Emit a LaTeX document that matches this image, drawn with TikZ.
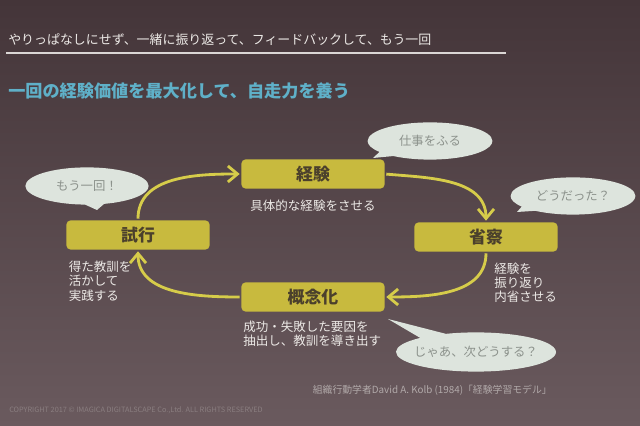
\documentclass[tikz,border=0pt]{standalone}
\usepackage{fontspec}
\setmainfont{Noto Sans CJK JP}
\usepackage{xcolor}
\usepackage{tikz}
\usetikzlibrary{positioning, arrows.meta, shapes, shapes.callouts, calc}

\definecolor{bgtop}{RGB}{68,53,57}
\definecolor{bgbot}{RGB}{106,90,94}
\definecolor{stagefill}{RGB}{200,186,62}
\definecolor{stagetext}{RGB}{75,64,44}
\definecolor{loopcol}{RGB}{214,204,74}
\definecolor{headblue}{RGB}{95,176,200}
\definecolor{bubblefill}{RGB}{221,228,221}
\definecolor{bubbletext}{RGB}{140,146,140}
\definecolor{softwhite}{RGB}{236,233,230}

\begin{document}
\begin{tikzpicture}[x=0.025cm, y=0.025cm]
        \tikzstyle{stage} = [rectangle, fill=stagefill, text=stagetext, minimum width=3.58cm, minimum height=0.73cm, rounded corners=3pt, font=\fontsize{12}{14}\selectfont\bfseries]
        \tikzstyle{note} = [text=softwhite, align=left, inner sep=0pt, font=\fontsize{8.9}{10.2}\selectfont]
        \tikzstyle{bubble} = [ellipse callout, fill=bubblefill, text=bubbletext, inner sep=0pt, minimum width=3.12cm, minimum height=0.93cm, callout pointer arc=18, font=\fontsize{8.8}{10}\selectfont]
        \tikzstyle{arrow} = [line width=2pt, draw=loopcol, -{Straight Barb[length=2.4mm, width=4mm]}, shorten >=1pt, shorten <=1pt]

        % background
        \fill [top color=bgtop, bottom color=bgbot] (0,0) rectangle (640,426);

        % header
        \node [anchor=west, inner sep=0pt, text=softwhite, font=\fontsize{9.2}{11}\selectfont] (lead) at (8,386) {やりっぱなしにせず、一緒に振り返って、フィードバックして、もう一回};
        \coordinate (ruleL) at (6,373);
        \coordinate (ruleR) at (506,373);
        \draw [line width=1pt, draw=softwhite!90!bgtop] (ruleL) -- (ruleR);
        \node [anchor=west, inner sep=0pt, text=headblue, font=\fontsize{12.2}{14}\selectfont\bfseries] (title) at (8,335) {一回の経験価値を最大化して、自走力を養う};

        % four stages
        \node [stage] (keiken) at (313,252) {経験};
        \node [stage] (shiko) at (138,191) {試行};
        \node [stage] (shousatsu) at (486,189) {省察};
        \node [stage] (gainen) at (313,129) {概念化};

        \node [note, below=2.6mm of keiken, align=center] (keikenTxt) {具体的な経験をさせる};
        \node [note, below=2.7mm of shiko.south west, anchor=north west, xshift=0.6mm] (shikoTxt) {得た教訓を\\活かして\\実践する};
        \node [note, below=2.6mm of shousatsu.south, anchor=north west, xshift=2mm] (shousatsuTxt) {経験を\\振り返り\\内省させる};
        \node [note, below=2.2mm of gainen.south west, anchor=north west, xshift=0.5mm] (gainenTxt) {成功・失敗した要因を\\抽出し、教訓を導き出す};

        % cycle
        \draw [arrow] (shiko.north) to[out=90, in=180] (keiken.west);
        \draw [arrow] (keiken.east) to[out=-5, in=90] (shousatsu.north);
        \draw [arrow] (shousatsu.south) to[out=-90, in=0] (gainen.east);
        \draw [arrow] (gainen.west) to[out=180, in=-90] (shiko.south);

        % speech bubbles
        \coordinate (tipA) at (373,268);
        \coordinate (tipB) at (517,214);
        \coordinate (tipC) at (97,216);
        \coordinate (tipD) at (388,107);
        \node [bubble, callout absolute pointer={(tipA)}] (say1) at (430,285) {仕事をふる};
        \node [bubble, callout absolute pointer={(tipB)}] (say2) at (573,230) {どうだった？};
        \node [bubble, callout absolute pointer={(tipC)}, minimum width=3.08cm] (say3) at (87,240) {もう一回！};
        \node [bubble, callout absolute pointer={(tipD)}, minimum width=4cm, minimum height=0.98cm, callout pointer arc=22] (say4) at (476,74) {\makebox[2.6cm][c]{じゃあ、次どうする？}};

        % footer
        \node [anchor=east, inner sep=0pt, text=softwhite!55!bgbot, font=\fontsize{7}{8}\selectfont] (source) at (552,36) {組織行動学者David A. Kolb (1984)「経験学習モデル」};
        \node [anchor=west, inner sep=0pt, text=softwhite!25!bgbot, font=\fontsize{5.2}{6}\selectfont] (copy) at (9,16) {COPYRIGHT 2017 © IMAGICA DIGITALSCAPE Co.,Ltd. ALL RIGHTS RESERVED};
\end{tikzpicture}
\end{document}
